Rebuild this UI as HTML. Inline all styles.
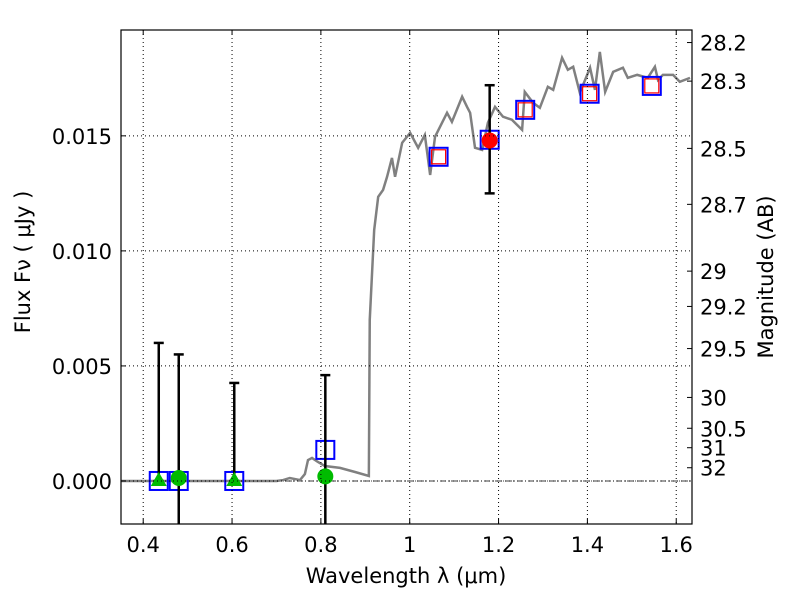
<!DOCTYPE html>
<html><head><meta charset="utf-8"><style>
body{margin:0;background:#fff}
svg{display:block;font-family:"DejaVu Sans","Liberation Sans",sans-serif}
</style></head><body>
<svg id="c" width="800" height="600" viewBox="0 0 800 600"></svg>
<script>
const specWl=[0.35,0.70,0.715,0.730,0.753,0.764,0.771,0.780,0.793,0.809,0.843,0.877,0.908,0.910,0.920,0.929,0.940,0.949,0.960,0.967,0.983,1.001,1.019,1.034,1.046,1.057,1.084,1.095,1.118,1.129,1.136,1.147,1.163,1.176,1.192,1.210,1.230,1.253,1.259,1.278,1.293,1.311,1.323,1.343,1.356,1.368,1.383,1.406,1.417,1.428,1.440,1.458,1.480,1.491,1.512,1.536,1.552,1.559,1.570,1.593,1.608,1.631];
const specF=[0,0,0.00004,0.00013,0.00004,0.0003,0.00091,0.001,0.00083,0.00065,0.00057,0.00039,0.00022,0.0070,0.01091,0.01235,0.01265,0.01322,0.01404,0.01322,0.0147,0.01513,0.01448,0.01504,0.0133,0.01496,0.016,0.01561,0.0167,0.01626,0.016,0.01448,0.01439,0.01557,0.01626,0.01583,0.0157,0.01526,0.01691,0.01643,0.01622,0.01713,0.017,0.01839,0.01787,0.018,0.01687,0.01796,0.01700,0.01865,0.01691,0.01778,0.01796,0.01752,0.01765,0.01752,0.018,0.01743,0.01765,0.01765,0.01735,0.01752];
const sqWl=[0.435,0.48,0.605,0.81,1.065,1.18,1.26,1.405,1.545];
const sqF=[0,0,0,0.00135,0.01409,0.01483,0.01613,0.01683,0.01717];
const redSqWl=[1.065,1.26,1.405,1.545];
const redSqF=[0.01409,0.01613,0.01683,0.01717];
const redPtWl=[1.18]; const redPtF=[0.0148]; const redPtLo=[0.0125]; const redPtHi=[0.0172];
const grnCirWl=[0.48,0.81]; const grnCirF=[0.00013,0.0002]; const grnCirLo=[-0.0054,-0.0042]; const grnCirHi=[0.0055,0.0046];
const triWl=[0.435,0.605]; const triF=[0,0]; const triHi=[0.006,0.00426];
const xTicks=[0.4,0.6,0.8,1.0,1.2,1.4,1.6]; const xLabels=["0.4","0.6","0.8","1","1.2","1.4","1.6"];
const yTicks=[0,0.005,0.010,0.015]; const yLabels=["0.000","0.005","0.010","0.015"];
const magTicks=[28.2,28.3,28.5,28.7,29,29.2,29.5,30,30.5,31,32];
const L=121,R=692,T=30,B=524,X0=0.35,X1=1.6355,Y0=-0.00187,Y1=0.0196;
const sx=v=>L+(v-X0)/(X1-X0)*(R-L), sy=v=>B-(v-Y0)/(Y1-Y0)*(B-T);
const svg=document.getElementById('c'),NS='http://www.w3.org/2000/svg';
function mk(t,a,p){const e=document.createElementNS(NS,t);for(const k in a)e.setAttribute(k,a[k]);(p||svg).appendChild(e);return e;}
const clip=mk('clipPath',{id:'cp'});mk('rect',{x:L,y:T,width:R-L,height:B-T},clip);
const g=mk('g',{'clip-path':'url(#cp)'});
xTicks.forEach((v,i)=>{const x=sx(v);
 let e=mk('line',{x1:x,x2:x,y1:T,y2:B,stroke:'#000','stroke-width':1,'stroke-dasharray':'1,3'});
 
 mk('line',{x1:x,x2:x,y1:B,y2:B-5,stroke:'#000'});mk('line',{x1:x,x2:x,y1:T,y2:T+5,stroke:'#000'});
 let t=mk('text',{x:x,y:B+28,'font-size':21,'text-anchor':'middle'});t.textContent=xLabels[i];
 });
yTicks.forEach((v,i)=>{const y=sy(v);
 let e=mk('line',{x1:L,x2:R,y1:y,y2:y,stroke:'#000','stroke-width':1,'stroke-dasharray':'1,3'});
 
 mk('line',{x1:L,x2:L+5,y1:y,y2:y,stroke:'#000'});
 let t=mk('text',{x:L-9,y:y+8,'font-size':21,'text-anchor':'end'});t.textContent=yLabels[i];
 });
magTicks.forEach(m=>{const f=Math.pow(10,(23.9-m)/2.5);const y=sy(f);
 mk('line',{x1:R-5,x2:R,y1:y,y2:y,stroke:'#000'});
 let t=mk('text',{x:R+8,y:y+8,'font-size':21});t.textContent=String(m);
 });
let z=mk('line',{x1:L,x2:R,y1:sy(0),y2:sy(0),stroke:'#000','stroke-width':0.8,'stroke-dasharray':'6,2,1,2'},g);

let sp=mk('polyline',{points:specWl.map((w,i)=>sx(w)+','+sy(specF[i])).join(' '),fill:'none',stroke:'#808080','stroke-width':2.5},g);

function eb(x,lo,hi){mk('line',{x1:x,x2:x,y1:sy(lo),y2:sy(hi),stroke:'#000','stroke-width':2.5},g);
 mk('line',{x1:x-5,x2:x+5,y1:sy(hi),y2:sy(hi),stroke:'#000','stroke-width':2.5},g);
 if(sy(lo)<B) mk('line',{x1:x-5,x2:x+5,y1:sy(lo),y2:sy(lo),stroke:'#000','stroke-width':2.5},g);}
sqWl.forEach((w,i)=>{let r=mk('rect',{x:sx(w)-9,y:sy(sqF[i])-9,width:18,height:18,fill:'none',stroke:'#0000ff','stroke-width':2},g);
 });
redSqWl.forEach((w,i)=>{let r=mk('rect',{x:sx(w)-7,y:sy(redSqF[i])-7,width:14,height:14,fill:'none',stroke:'#ff0000','stroke-width':1.2},g);
 });
triWl.forEach((w,i)=>{eb(sx(w),triF[i],triHi[i]);const x=sx(w),y=sy(triF[i]);
 let p=mk('polygon',{points:`${x},${y-9} ${x-8},${y+5} ${x+8},${y+5}`,fill:'#00bb00'},g);
 });
grnCirWl.forEach((w,i)=>{eb(sx(w),grnCirLo[i],grnCirHi[i]);
 let c=mk('circle',{cx:sx(w),cy:sy(grnCirF[i]),r:8,fill:'#00bb00'},g);
 });
redPtWl.forEach((w,i)=>{eb(sx(w),redPtLo[i],redPtHi[i]);
 let c=mk('circle',{cx:sx(w),cy:sy(redPtF[i]),r:8,fill:'#ff0000'},g);
 });
let fr=mk('rect',{x:L,y:T,width:R-L,height:B-T,fill:'none',stroke:'#000','stroke-width':1.2});

let xt=mk('text',{x:406,y:583,'font-size':21,'text-anchor':'middle'});xt.textContent='Wavelength  λ (μm)';

let yt=mk('text',{x:30,y:262,'font-size':21,'text-anchor':'middle',transform:'rotate(-90 30 262)'});yt.textContent='Flux  Fν  ( μJy )';

let mt=mk('text',{x:773,y:277,'font-size':21,'text-anchor':'middle',transform:'rotate(-90 773 277)'});mt.textContent='Magnitude (AB)';

</script>
</body></html>
